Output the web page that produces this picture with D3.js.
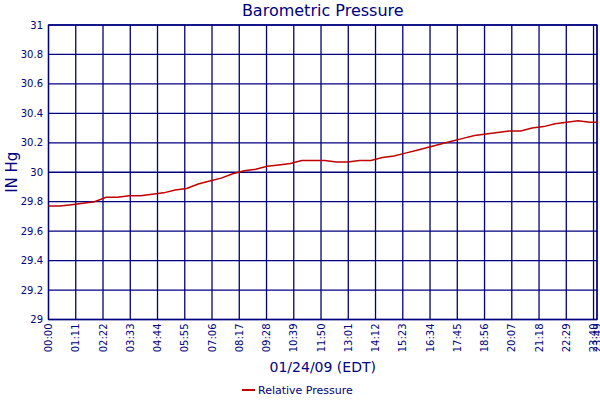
<!DOCTYPE html>
<html>
<head>
<meta charset="utf-8">
<script src="https://cdn.jsdelivr.net/npm/d3@7"></script>
<style>
  body { margin: 0; background: #fff; }
  text { font-family: "DejaVu Sans", Verdana, sans-serif; fill: #000080; }
</style>
</head>
<body>
<div id="chart"></div>
<script>
// minutes after midnight
const times = [0, 30, 60, 90, 120, 150, 180, 210, 240, 270, 300, 330, 360, 390, 420, 450,
  480, 510, 540, 570, 600, 630, 660, 690, 720, 750, 780, 810, 840, 870, 900, 930,
  960, 990, 1020, 1050, 1080, 1110, 1140, 1170, 1200, 1230, 1260, 1290, 1320, 1350,
  1380, 1410, 1429];
const pressure = [29.77, 29.77, 29.78, 29.79, 29.80, 29.83, 29.83, 29.84, 29.84, 29.85,
  29.86, 29.88, 29.89, 29.92, 29.94, 29.96, 29.99, 30.01, 30.02, 30.04, 30.05, 30.06,
  30.08, 30.08, 30.08, 30.07, 30.07, 30.08, 30.08, 30.10, 30.11, 30.13, 30.15, 30.17,
  30.19, 30.21, 30.23, 30.25, 30.26, 30.27, 30.28, 30.28, 30.30, 30.31, 30.33, 30.34,
  30.35, 30.34, 30.34];
const xTickLabels = ["00:00", "01:11", "02:22", "03:33", "04:44", "05:55", "07:06", "08:17",
  "09:28", "10:39", "11:50", "13:01", "14:12", "15:23", "16:34", "17:45", "18:56",
  "20:07", "21:18", "22:29", "23:40", "23:49"];
const yTicks = [29, 29.2, 29.4, 29.6, 29.8, 30, 30.2, 30.4, 30.6, 30.8, 31];
const seriesName = "Relative Pressure";

const width = 600, height = 400;
const navy = "#000080";
const plotLeft = 48.5, plotRight = 597, plotTop = 25, plotBottom = 319.5;

const toMin = s => { const p = s.split(":"); return +p[0] * 60 + +p[1]; };
const data = times.map((t, i) => ({ t: t, v: pressure[i] }));

const svg = d3.select("#chart").append("svg")
  .attr("width", width)
  .attr("height", height);

const x = d3.scaleLinear()
  .domain([0, toMin(xTickLabels[xTickLabels.length - 1])])
  .range([plotLeft, plotRight]);

const y = d3.scaleLinear()
  .domain([29, 31])
  .range([plotBottom, plotTop]);

// grid
svg.append("g")
  .selectAll("line")
  .data(yTicks)
  .join("line")
  .attr("x1", plotLeft).attr("x2", plotRight)
  .attr("y1", d => y(d)).attr("y2", d => y(d))
  .attr("stroke", navy).attr("stroke-width", 1.3);

svg.append("g")
  .selectAll("line")
  .data(xTickLabels)
  .join("line")
  .attr("x1", d => x(toMin(d))).attr("x2", d => x(toMin(d)))
  .attr("y1", plotTop).attr("y2", plotBottom)
  .attr("stroke", navy).attr("stroke-width", 1.3);

svg.append("rect")
  .attr("x", plotLeft).attr("y", plotTop)
  .attr("width", plotRight - plotLeft).attr("height", plotBottom - plotTop)
  .attr("fill", "none")
  .attr("stroke", navy).attr("stroke-width", 1.3);

// y tick labels
svg.append("g")
  .selectAll("text")
  .data(yTicks)
  .join("text")
  .attr("x", 43)
  .attr("y", d => y(d))
  .attr("dy", "0.35em")
  .attr("text-anchor", "end")
  .style("font-size", "10px")
  .text(d => +d.toFixed(1));

// x tick labels, rotated
svg.append("g")
  .selectAll("text")
  .data(xTickLabels)
  .join("text")
  .attr("transform", d => `translate(${x(toMin(d))}, ${plotBottom + 4}) rotate(-90)`)
  .attr("dy", "0.35em")
  .attr("text-anchor", "end")
  .style("font-size", "10px")
  .text(d => d);

// series
const line = d3.line()
  .x(d => x(d.t))
  .y(d => y(d.v));

svg.append("path")
  .datum(data)
  .attr("d", line)
  .attr("fill", "none")
  .attr("stroke", "#c00000")
  .attr("stroke-width", 1.5);

// titles
svg.append("text")
  .attr("x", (plotLeft + plotRight) / 2)
  .attr("y", 16)
  .attr("text-anchor", "middle")
  .style("font-size", "16px")
  .text("Barometric Pressure");

svg.append("text")
  .attr("x", (plotLeft + plotRight) / 2)
  .attr("y", 372)
  .attr("text-anchor", "middle")
  .style("font-size", "14px")
  .text("01/24/09 (EDT)");

svg.append("text")
  .attr("transform", `translate(17, ${(plotTop + plotBottom) / 2}) rotate(-90)`)
  .attr("text-anchor", "middle")
  .style("font-size", "15px")
  .text("IN Hg");

// legend
svg.append("line")
  .attr("x1", 242).attr("x2", 255)
  .attr("y1", 390).attr("y2", 390)
  .attr("stroke", "#c00000").attr("stroke-width", 2);

svg.append("text")
  .attr("x", 258)
  .attr("y", 394)
  .style("font-size", "11px")
  .text(seriesName);
</script>
</body>
</html>
